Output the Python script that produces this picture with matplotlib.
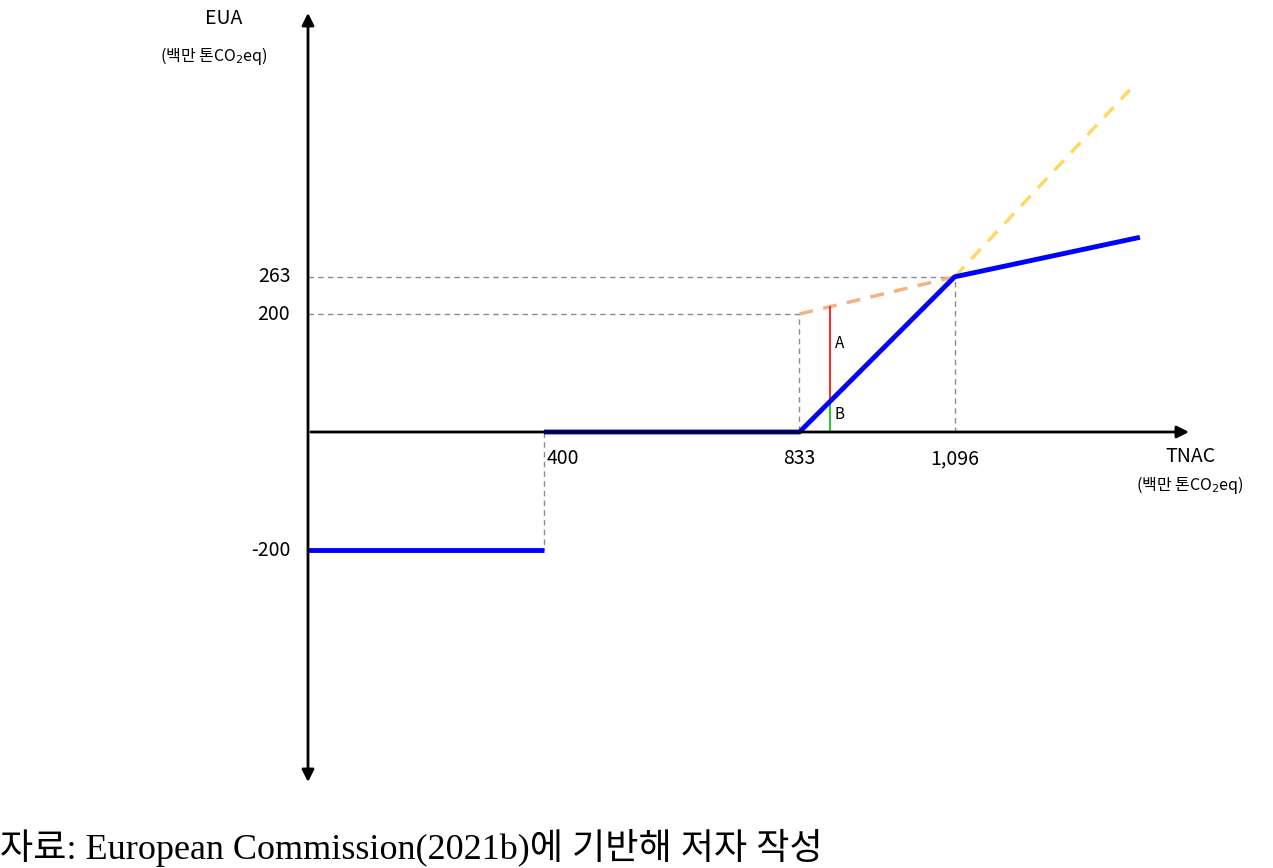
import matplotlib.pyplot as plt

plt.rcParams['font.family'] = ['Noto Sans CJK KR', 'DejaVu Sans']

# schematic values (백만 톤CO2eq)
tnac_ticks = [400, 833, 1096]
eua_ticks = [263, 200, -200]
blue_low_x = [0, 400]
blue_low_y = [-200, -200]
blue_x = [400, 833, 1096, 1410]
blue_y = [0, 0, 263, 330]
orange_x = [833, 1096]
orange_y = [200, 263]
yellow_x = [1096, 1393]
yellow_y = [263, 580]
a_x = 885
a_y = [52, 212]

# pixel mapping: 0.59 px per unit, origin at (308, 432)
s = 0.59
fig = plt.figure(figsize=(12.73, 8.68), dpi=100)
ax = fig.add_axes([0, 0, 1, 1])
ax.set_xlim(-308 / s, (1273 - 308) / s)
ax.set_ylim((432 - 868) / s, 432 / s)
ax.axis('off')

gray = dict(color='#8c8c8c', lw=1, ls=(0, (4, 3)))
ax.plot([0, 1096, 1096], [263, 263, 0], **gray)
ax.plot([0, 833, 833], [200, 200, 0], **gray)
ax.plot([400, 400], [0, -200], **gray)

ax.plot(orange_x, orange_y, color='#f4b183', lw=2.5, ls=(0, (4, 3)))
ax.plot(yellow_x, yellow_y, color='#ffd966', lw=2.5, ls=(0, (4, 3)))
ax.plot([a_x, a_x], [a_y[0], a_y[1]], color='red', lw=1.2)
ax.plot([a_x, a_x], [0, a_y[0]], color='#00c000', lw=1.2)

# axes arrows
ax.annotate('', xy=(1498, 0), xytext=(0, 0),
            arrowprops=dict(arrowstyle='-|>', color='black', lw=2, mutation_scale=18))
ax.annotate('', xy=(0, 715), xytext=(0, -598),
            arrowprops=dict(arrowstyle='<|-|>', color='black', lw=2, mutation_scale=18))

ax.plot(blue_low_x, blue_low_y, color='#0000ff', lw=3.5, solid_capstyle='butt')
ax.plot(blue_x, blue_y, color='#0000ff', lw=3.5, solid_capstyle='butt')

ax.text(a_x + 8, 150, 'A', fontsize=11, va='center')
ax.text(a_x + 8, 30, 'B', fontsize=11, va='center')

for t in tnac_ticks:
    ax.text(t + (5 if t == 400 else 0), -45, f'{t:,}', fontsize=14,
            ha='left' if t == 400 else 'center', va='center')
for v in eua_ticks:
    ax.text(-30, v, str(v), fontsize=14, ha='right', va='center')

ax.text((224 - 308) / s, (432 - 18) / s, 'EUA', fontsize=14, ha='center', va='center')
ax.text((214 - 308) / s, (432 - 56) / s, '(백만 톤CO$_2$eq)', fontsize=11.5, ha='center', va='center')
ax.text((1190 - 308) / s, (432 - 456) / s, 'TNAC', fontsize=14, ha='center', va='center')
ax.text((1190 - 308) / s, (432 - 485) / s, '(백만 톤CO$_2$eq)', fontsize=11.5, ha='center', va='center')

fig.text(0.0, 1 - 848 / 868, '자료: European Commission(2021b)에 기반해 저자 작성',
         fontsize=26, ha='left', va='center', family=['Liberation Serif', 'Noto Sans CJK KR'])

fig.savefig('out.png', dpi=100)
